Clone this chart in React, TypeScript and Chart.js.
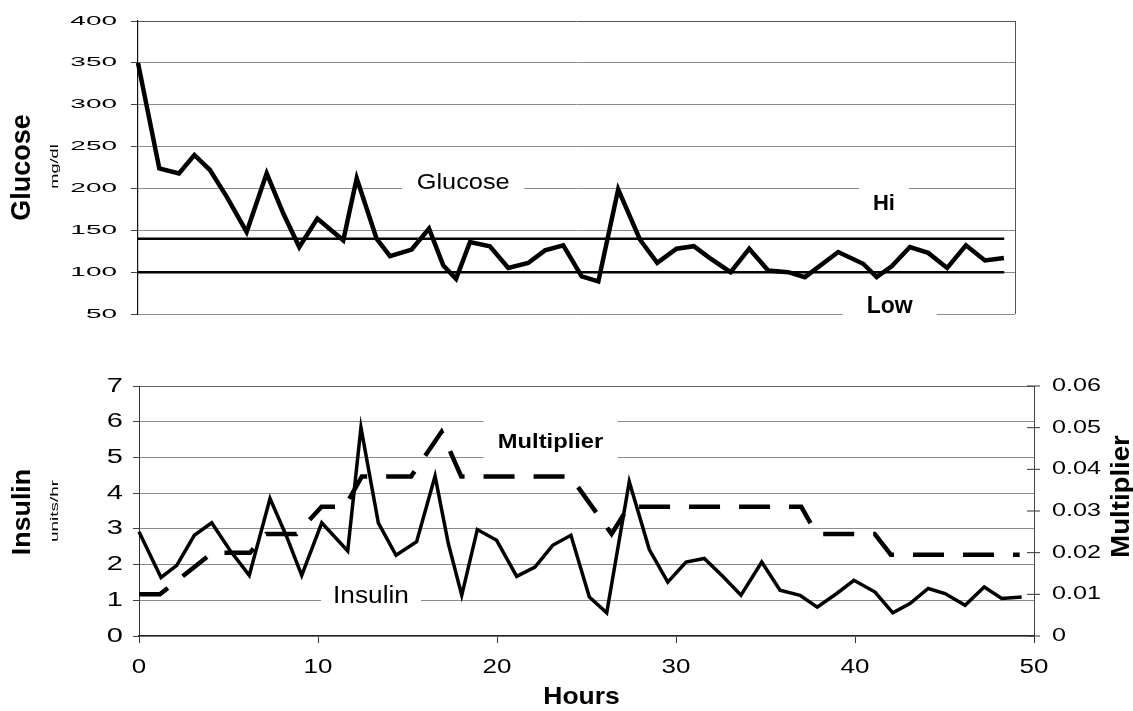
import { useEffect, useRef } from 'react';
import { Chart, registerables } from 'chart.js';

Chart.register(...registerables);

const FONT = "'Liberation Sans', Arial, Helvetica, sans-serif";

// ---------- Top chart data (glucose, mg/dl) ----------
const glucoseHours = [0, 1.19, 2.29, 3.15, 4.02, 4.96, 6.07, 7.19, 8.12, 9.01, 10.02, 11.47, 12.22, 13.33, 14.08, 15.29, 16.26, 17.06, 17.77, 18.55, 19.66, 20.69, 21.8, 22.74, 23.76, 24.79, 25.72, 26.83, 28.04, 29.01, 30.09, 31.06, 31.93, 33.11, 34.15, 35.21, 36.33, 37.26, 39.12, 40.52, 41.27, 42.11, 43.13, 44.15, 45.21, 46.26, 47.32, 48.38];
const glucoseValues = [350, 224, 218, 240, 222, 190, 148, 218, 170, 130, 164, 138, 212, 140, 119, 127, 152, 108, 92, 136, 131, 105, 111, 126, 132, 95, 89, 199, 139, 111, 128, 131, 117, 100, 128, 102, 100, 94, 124, 110, 94, 107, 130, 123, 105, 132, 114, 117];
const limitHours = [0, 48.4];
const hiValues = [140, 140];
const lowValues = [100, 100];
const glucoseAxis = { min: 50, max: 400, step: 50 };
const topHoursMax = 49;

const glucoseNotes = ['Glucose', 'Hi', 'Low'];
const glucoseNoteHours = [18.17, 41.68, 42.0];
const glucoseNoteValues = [206.8, 181.7, 58.7];

// ---------- Bottom chart data (insulin units/hr, multiplier) ----------
const insulinHours = [0, 1.23, 2.11, 3.09, 4.06, 5.08, 6.16, 7.32, 8.25, 9.09, 10.21, 11.66, 12.4, 13.37, 14.36, 15.51, 16.54, 17.28, 18.03, 18.9, 19.98, 21.1, 22.12, 23.11, 24.13, 25.16, 26.13, 27.39, 28.51, 29.54, 30.56, 31.58, 32.61, 33.63, 34.79, 35.81, 36.93, 37.89, 38.98, 39.94, 41.12, 42.11, 43.07, 44.09, 45.03, 46.15, 47.22, 48.2, 49.31];
const insulinValues = [2.92, 1.64, 1.98, 2.82, 3.17, 2.4, 1.7, 3.85, 2.78, 1.7, 3.17, 2.38, 5.84, 3.17, 2.26, 2.64, 4.48, 2.59, 1.14, 2.98, 2.68, 1.67, 1.93, 2.54, 2.82, 1.09, 0.65, 4.32, 2.42, 1.51, 2.07, 2.17, 1.67, 1.14, 2.07, 1.28, 1.14, 0.81, 1.19, 1.56, 1.23, 0.65, 0.91, 1.33, 1.19, 0.86, 1.37, 1.05, 1.09];
const multiplierHours = [0, 1.17, 4.1, 6.2, 7.1, 8.8, 10.2, 11.5, 12.45, 15.2, 16.9, 18.0, 24.1, 26.4, 27.35, 37.0, 37.85, 41.1, 42.0, 49.2];
const multiplierValues = [0.01, 0.01, 0.02, 0.02, 0.0245, 0.0245, 0.031, 0.031, 0.0383, 0.0383, 0.049, 0.0383, 0.0383, 0.0245, 0.031, 0.031, 0.0245, 0.0245, 0.0195, 0.0195];
const insulinAxis = { min: 0, max: 7, step: 1 };
const multiplierAxis = { min: 0, max: 0.06, step: 0.01 };
const hoursAxis = { min: 0, max: 50, step: 10 };

const insulinNotes = ['Multiplier', 'Insulin'];
const insulinNoteHours = [22.99, 12.96];
const insulinNoteValues = [5.44, 1.09];

// ---------- styles ----------
const noteStyles: Record<string, { font: string; sx: number; w: number; h: number }> = {
  Glucose: { font: `22px ${FONT}`, sx: 1.15, w: 122, h: 26 },
  Hi: { font: `bold 22px ${FONT}`, sx: 1.0, w: 50, h: 36 },
  Low: { font: `bold 23px ${FONT}`, sx: 1.0, w: 94, h: 26 },
  Multiplier: { font: `bold 21px ${FONT}`, sx: 1.13, w: 134, h: 51 },
  Insulin: { font: `23px ${FONT}`, sx: 1.14, w: 100, h: 28 },
};

function drawText(ctx: CanvasRenderingContext2D, text: string, x: number, y: number, font: string, sx: number, align: CanvasTextAlign, rot = 0) {
  ctx.save();
  ctx.translate(x, y);
  if (rot) ctx.rotate(rot);
  ctx.scale(sx, 1);
  ctx.font = font;
  ctx.fillStyle = '#000';
  ctx.textAlign = align;
  ctx.textBaseline = 'middle';
  ctx.fillText(text, 0, 0);
  ctx.restore();
}

function drawNotes(chart: any, notes: string[], hours: number[], values: number[], yId: string) {
  const { ctx } = chart;
  const xs = chart.scales.x;
  const ys = chart.scales[yId];
  notes.forEach((t, i) => {
    const st = noteStyles[t];
    const px = xs.getPixelForValue(hours[i]);
    const py = ys.getPixelForValue(values[i]);
    ctx.save();
    ctx.fillStyle = '#fff';
    ctx.fillRect(px - st.w / 2, py - st.h / 2, st.w, st.h);
    ctx.restore();
    drawText(ctx, t, px, py, st.font, st.sx, 'center');
  });
}

const gridColor = '#8c8c8c';

const topPlugin = {
  id: 'topDecor',
  beforeDatasetsDraw(chart: any) {
    const { ctx, chartArea } = chart;
    ctx.save();
    ctx.strokeStyle = '#555';
    ctx.lineWidth = 1;
    ctx.beginPath();
    ctx.moveTo(chartArea.right + 0.5, chartArea.top);
    ctx.lineTo(chartArea.right + 0.5, chartArea.bottom);
    ctx.stroke();
    ctx.restore();
    drawNotes(chart, glucoseNotes, glucoseNoteHours, glucoseNoteValues, 'y');
  },
  afterDraw(chart: any) {
    const { ctx, chartArea } = chart;
    const ys = chart.scales.y;
    ys.ticks.forEach((t: any) => {
      drawText(ctx, String(t.value), chartArea.left - 21, ys.getPixelForValue(t.value), `13px ${FONT}`, 2.15, 'right');
    });
    const cy = (chartArea.top + chartArea.bottom) / 2;
    drawText(ctx, 'Glucose', 23, cy, `bold 27px ${FONT}`, 1.0, 'center', -Math.PI / 2);
    drawText(ctx, 'mg/dl', 55, cy - 1, `11px ${FONT}`, 1.65, 'center', -Math.PI / 2);
  },
};

const bottomPlugin = {
  id: 'bottomDecor',
  beforeDatasetsDraw(chart: any) {
    drawNotes(chart, insulinNotes, insulinNoteHours, insulinNoteValues, 'y');
  },
  afterDraw(chart: any) {
    const { ctx, chartArea } = chart;
    const ys = chart.scales.y;
    const y1 = chart.scales.y1;
    const xs = chart.scales.x;
    ys.ticks.forEach((t: any) => {
      drawText(ctx, String(t.value), chartArea.left - 16, ys.getPixelForValue(t.value), `20px ${FONT}`, 1.45, 'right');
    });
    y1.ticks.forEach((t: any) => {
      const py = y1.getPixelForValue(t.value);
      ctx.save();
      ctx.strokeStyle = '#333';
      ctx.lineWidth = 1;
      ctx.beginPath();
      ctx.moveTo(chartArea.right - 7, py);
      ctx.lineTo(chartArea.right + 6, py);
      ctx.stroke();
      ctx.restore();
      const label = t.value === 0 ? '0' : Number(t.value).toFixed(2);
      drawText(ctx, label, chartArea.right + 18, py, `18.5px ${FONT}`, 1.36, 'left');
    });
    xs.ticks.forEach((t: any) => {
      drawText(ctx, String(t.value), xs.getPixelForValue(t.value), chartArea.bottom + 32, `19.5px ${FONT}`, 1.33, 'center');
    });
    const cy = (chartArea.top + chartArea.bottom) / 2;
    drawText(ctx, 'Insulin', 22.5, cy + 1, `bold 26px ${FONT}`, 1.03, 'center', -Math.PI / 2);
    drawText(ctx, 'units/hr', 55, cy, `11.5px ${FONT}`, 1.65, 'center', -Math.PI / 2);
    drawText(ctx, 'Multiplier', 1122, cy - 14.5, `bold 26px ${FONT}`, 1.06, 'center', -Math.PI / 2);
    drawText(ctx, 'Hours', 581.5, chartArea.bottom + 61, `bold 24.5px ${FONT}`, 1.08, 'center');
  },
};

function pts(xs: number[], ys: number[]) {
  return xs.map((x, i) => ({ x, y: ys[i] }));
}

export default function App() {
  const topRef = useRef<HTMLCanvasElement>(null);
  const botRef = useRef<HTMLCanvasElement>(null);

  useEffect(() => {
    const top = new Chart(topRef.current as HTMLCanvasElement, {
      type: 'line',
      data: {
        datasets: [
          { label: 'Glucose', data: pts(glucoseHours, glucoseValues), borderColor: '#000', borderWidth: 4.5, pointRadius: 0, tension: 0, borderJoinStyle: 'miter', clip: false } as any,
          { label: 'Hi', data: pts(limitHours, hiValues), borderColor: '#000', borderWidth: 2.5, pointRadius: 0, clip: false } as any,
          { label: 'Low', data: pts(limitHours, lowValues), borderColor: '#000', borderWidth: 2.5, pointRadius: 0, clip: false } as any,
        ],
      },
      options: {
        responsive: false,
        animation: false,
        events: [],
        layout: { padding: { left: 0, right: 118, top: 21, bottom: 16 } },
        plugins: { legend: { display: false }, tooltip: { enabled: false } },
        scales: {
          x: { type: 'linear', display: false, min: 0, max: topHoursMax },
          y: {
            type: 'linear',
            min: glucoseAxis.min,
            max: glucoseAxis.max,
            ticks: { stepSize: glucoseAxis.step, display: false },
            grid: {
              color: (c: any) => (c.tick && c.tick.value === glucoseAxis.max ? '#555' : gridColor),
              lineWidth: 1,
              drawTicks: true,
              tickLength: 7,
              tickColor: '#444',
            },
            border: { display: true, color: '#111', width: 1.2 },
            afterFit: (s: any) => { s.width = 138; },
          },
        },
      } as any,
      plugins: [topPlugin],
    });

    const bot = new Chart(botRef.current as HTMLCanvasElement, {
      type: 'line',
      data: {
        datasets: [
          { label: 'Insulin', data: pts(insulinHours, insulinValues), yAxisID: 'y', borderColor: '#000', borderWidth: 3.5, pointRadius: 0, tension: 0, borderJoinStyle: 'miter', clip: false } as any,
          { label: 'Multiplier', data: pts(multiplierHours, multiplierValues), yAxisID: 'y1', borderColor: '#000', borderWidth: 4.5, borderDash: [31, 19], borderCapStyle: 'butt', pointRadius: 0, tension: 0, clip: false } as any,
        ],
      },
      options: {
        responsive: false,
        animation: false,
        events: [],
        layout: { padding: { left: 0, right: 0, top: 56, bottom: 0 } },
        plugins: { legend: { display: false }, tooltip: { enabled: false } },
        scales: {
          x: {
            type: 'linear',
            min: hoursAxis.min,
            max: hoursAxis.max,
            ticks: { stepSize: hoursAxis.step, display: false },
            grid: { drawOnChartArea: false, drawTicks: true, tickLength: 7, color: '#333' },
            border: { display: true, color: '#222', width: 1.2 },
            afterFit: (s: any) => { s.height = 75; },
          },
          y: {
            type: 'linear',
            position: 'left',
            min: insulinAxis.min,
            max: insulinAxis.max,
            ticks: { stepSize: insulinAxis.step, display: false },
            grid: {
              color: (c: any) => (c.tick && c.tick.value === insulinAxis.max ? '#666' : gridColor),
              lineWidth: 1,
              drawTicks: true,
              tickLength: 6,
              tickColor: '#444',
            },
            border: { display: true, color: '#333', width: 1 },
            afterFit: (s: any) => { s.width = 139; },
          },
          y1: {
            type: 'linear',
            position: 'right',
            min: multiplierAxis.min,
            max: multiplierAxis.max,
            ticks: { stepSize: multiplierAxis.step, display: false },
            grid: { drawOnChartArea: false, drawTicks: false },
            border: { display: true, color: '#444', width: 1 },
            afterFit: (s: any) => { s.width = 99; },
          },
        },
      } as any,
      plugins: [bottomPlugin],
    });

    return () => {
      top.destroy();
      bot.destroy();
    };
  }, []);

  return (
    <div style={{ position: 'absolute', left: 0, top: 0, width: 1133, height: 711, background: '#fff' }}>
      <canvas ref={topRef} width={1133} height={330} style={{ position: 'absolute', left: 0, top: 0 }} />
      <canvas ref={botRef} width={1133} height={381} style={{ position: 'absolute', left: 0, top: 330 }} />
    </div>
  );
}
